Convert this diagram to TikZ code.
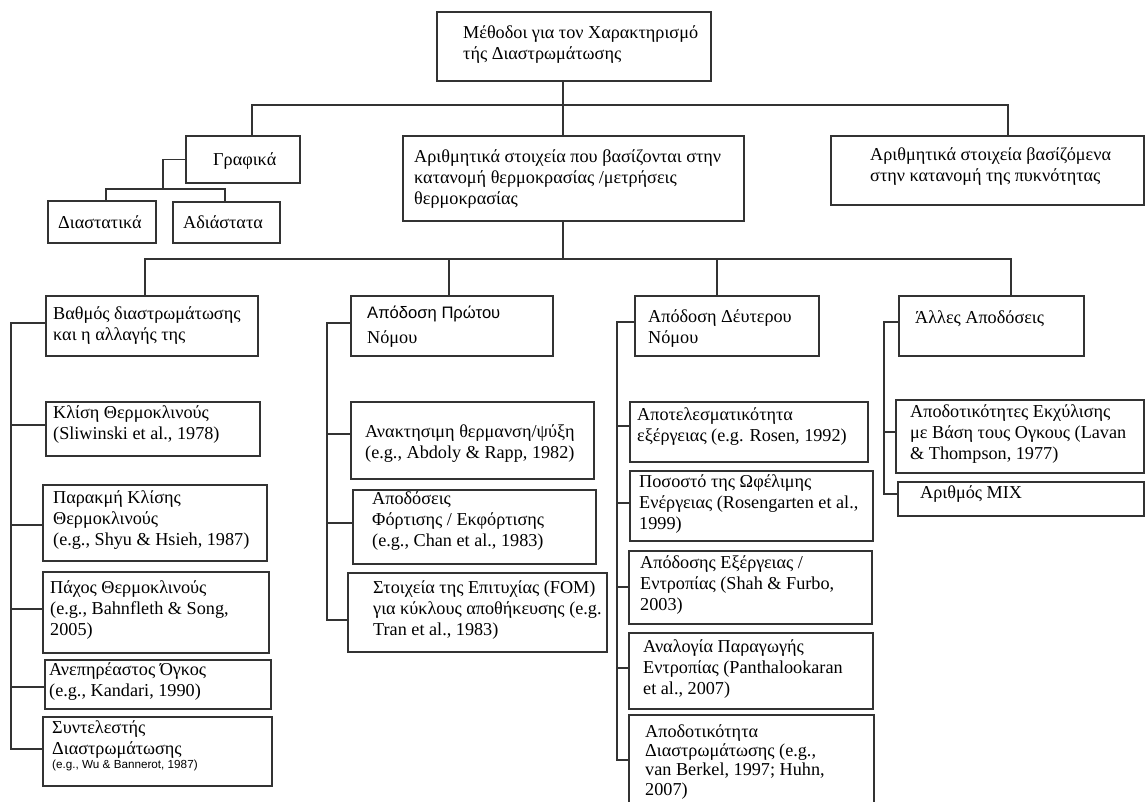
\documentclass[tikz,border=0pt]{standalone}
\usepackage{fontspec}
\setmainfont{Liberation Serif}
\newfontfamily\arialf{Liberation Sans}
\usetikzlibrary{fit}
\begin{document}
\begin{tikzpicture}[x=1pt,y=-1pt,
  box/.style={draw=black!80, line width=1.3pt, inner sep=0pt},
  txt/.style={inner sep=0pt, align=left, anchor=base west, text=black,
    font=\fontsize{18.2}{21}\selectfont},
  ln/.style={draw=black!80, line width=1.3pt}]
\useasboundingbox (0,0) rectangle (1145,801);
% boxes
\node[box, fit={(437,12) (711,81)}] (top) {};
\node[box, fit={(186,136) (300,183)}] (graf) {};
\node[box, fit={(48,201) (156,243)}] (diast) {};
\node[box, fit={(173,202) (280,243)}] (adiast) {};
\node[box, fit={(403,136) (744,221)}] (mid) {};
\node[box, fit={(831,136) (1144,205)}] (dens) {};
\node[box, fit={(46,296) (258,356)}] (vath) {};
\node[box, fit={(46,402) (260,456)}] (klisi) {};
\node[box, fit={(43,485) (267,561)}] (parakmi) {};
\node[box, fit={(43,572) (269,653)}] (pachos) {};
\node[box, fit={(45,660) (271,709)}] (anep) {};
\node[box, fit={(43,717) (272,786)}] (synt) {};
\node[box, fit={(351,296) (553,356)}] (prot) {};
\node[box, fit={(351,402) (594,479)}] (anakt) {};
\node[box, fit={(353,490) (596,564)}] (apod) {};
\node[box, fit={(348,573) (607,652)}] (fom) {};
\node[box, fit={(635,296) (819,356)}] (deut) {};
\node[box, fit={(630,402) (868,462)}] (apot) {};
\node[box, fit={(630,471) (873,541)}] (poso) {};
\node[box, fit={(629,551) (872,624)}] (exerg) {};
\node[box, fit={(629,633) (873,709)}] (anal) {};
\node[box, fit={(629,715) (874,812)}] (strat) {};
\node[box, fit={(899,296) (1084,356)}] (alles) {};
\node[box, fit={(896,400) (1144,473)}] (ekx) {};
\node[box, fit={(898,482) (1144,516)}] (mix) {};
% texts (anchored at the baseline of the last line)
\node[txt] (top-t) at (463,59) {Μέθοδοι για τον Χαρακτηρισμό\\τής Διαστρωμάτωσης};
\node[txt] (graf-t) at (213,165) {Γραφικά};
\node[txt] (diast-t) at (58,228) {Διαστατικά};
\node[txt] (adiast-t) at (183,228) {Αδιάστατα};
\node[txt] (mid-t) at (414,204) {Αριθμητικά στοιχεία που βασίζονται στην\\κατανομή θερμοκρασίας /μετρήσεις\\θερμοκρασίας};
\node[txt] (dens-t) at (870,181) {Αριθμητικά στοιχεία βασίζόμενα\\στην κατανομή της πυκνότητας};
\node[txt] (vath-t) at (53,340) {Βαθμός διαστρωμάτωσης\\και η αλλαγής της};
\node[txt] (klisi-t) at (53,439) {Κλίση Θερμοκλινούς\\(Sliwinski et al., 1978)};
\node[txt] (parakmi-t) at (53,545) {Παρακμή Κλίσης\\Θερμοκλινούς\\(e.g., Shyu \& Hsieh, 1987)};
\node[txt] (pachos-t) at (50,635) {Πάχος Θερμοκλινούς\\(e.g., Bahnfleth \& Song,\\2005)};
\node[txt] (anep-t) at (49,696) {Ανεπηρέαστος Όγκος\\(e.g., Kandari, 1990)};
\node[txt] (synt-t) at (52,754) {Συντελεστής\\Διαστρωμάτωσης};
\node[txt, font=\arialf\fontsize{11.7}{13}\selectfont] (synt-c) at (52,768) {(e.g., Wu \& Bannerot, 1987)};
\node[txt] (prot-t) at (367,343) {{\arialf\fontsize{16.6}{21}\selectfont Απόδοση Πρώτου}\\[4pt]Νόμου};
\node[txt] (anakt-t) at (365,458) {Ανακτησιμη θερμανση/ψύξη\\(e.g., Abdoly \& Rapp, 1982)};
\node[txt] (apod-t) at (372,546) {Αποδόσεις\\Φόρτισης / Εκφόρτισης\\(e.g., Chan et al., 1983)};
\node[txt] (fom-t) at (373,635) {Στοιχεία της Επιτυχίας (FOM)\\για κύκλους αποθήκευσης (e.g.\\Tran et al., 1983)};
\node[txt] (deut-t) at (648,343) {Απόδοση Δέυτερου\\Νόμου};
\node[txt] (apot-t) at (637,441) {Αποτελεσματικότητα\\εξέργειας (e.g. Rosen, 1992)};
\node[txt] (poso-t) at (639,529) {Ποσοστό της Ωφέλιμης\\Ενέργειας (Rosengarten et al.,\\1999)};
\node[txt] (exerg-t) at (640,610) {Απόδοσης Εξέργειας /\\Εντροπίας (Shah \& Furbo,\\2003)};
\node[txt] (anal-t) at (643,694) {Αναλογία Παραγωγής\\Εντροπίας (Panthalookaran\\et al., 2007)};
\node[txt, font=\fontsize{18.2}{19.3}\selectfont] (strat-t) at (645,795) {Αποδοτικότητα\\Διαστρωμάτωσης (e.g.,\\van Berkel, 1997; Huhn,\\2007)};
\node[txt] (alles-t) at (915,323) {Άλλες Αποδόσεις};
\node[txt] (ekx-t) at (910,459) {Αποδοτικότητες Εκχύλισης\\με Βάση τους Ογκους (Lavan\\\& Thompson, 1977)};
\node[txt] (mix-t) at (920,498) {Αριθμός MIX};
% junction coordinates
\coordinate (j1) at (563,105);
\coordinate (gx) at (252,105);
\coordinate (dx) at (1008,105);
\coordinate (j2) at (163,189);
\coordinate (d2) at (106,189);
\coordinate (a2) at (225,189);
\coordinate (j3) at (563,259);
\coordinate (v3) at (145,259);
\coordinate (p3) at (449,259);
\coordinate (e3) at (717,259);
\coordinate (o3) at (1011,259);
% top level
\draw[ln] (top.south -| j1) -- (mid.north -| j1);
\draw[ln] (graf.north -| gx) -- (gx) -- (dx) -- (dens.north -| dx);
% graphical
\draw[ln] (graf.west) -| (j2);
\draw[ln] (diast.north -| d2) -- (d2) -- (a2) -- (adiast.north -| a2);
% second level
\draw[ln] (mid.south -| j3) -- (j3);
\draw[ln] (vath.north -| v3) -- (v3) -- (o3) -- (alles.north -| o3);
\draw[ln] (p3) -- (prot.north -| p3);
\draw[ln] (e3) -- (deut.north -| e3);
% spine 1
\coordinate (s1a) at (11,323);
\coordinate (s1b) at (11,425);
\coordinate (s1c) at (11,525);
\coordinate (s1d) at (11,609);
\coordinate (s1e) at (11,687);
\coordinate (s1f) at (11,749);
\draw[ln] (s1a -| vath.west) -- (s1a) -- (s1f) -- (s1f -| synt.west);
\draw[ln] (s1b) -- (s1b -| klisi.west);
\draw[ln] (s1c) -- (s1c -| parakmi.west);
\draw[ln] (s1d) -- (s1d -| pachos.west);
\draw[ln] (s1e) -- (s1e -| anep.west);
% spine 2
\coordinate (s2a) at (327,323);
\coordinate (s2b) at (327,434);
\coordinate (s2c) at (327,523);
\coordinate (s2d) at (327,620);
\draw[ln] (s2a -| prot.west) -- (s2a) -- (s2d) -- (s2d -| fom.west);
\draw[ln] (s2b) -- (s2b -| anakt.west);
\draw[ln] (s2c) -- (s2c -| apod.west);
% spine 3
\coordinate (s3a) at (617,322);
\coordinate (s3b) at (617,426);
\coordinate (s3c) at (617,503);
\coordinate (s3d) at (617,587);
\coordinate (s3e) at (617,668);
\coordinate (s3f) at (617,760);
\draw[ln] (s3a -| deut.west) -- (s3a) -- (s3f) -- (s3f -| strat.west);
\draw[ln] (s3b) -- (s3b -| apot.west);
\draw[ln] (s3c) -- (s3c -| poso.west);
\draw[ln] (s3d) -- (s3d -| exerg.west);
\draw[ln] (s3e) -- (s3e -| anal.west);
% spine 4
\coordinate (s4a) at (884,322);
\coordinate (s4b) at (884,432);
\coordinate (s4c) at (884,494);
\draw[ln] (s4a -| alles.west) -- (s4a) -- (s4c) -- (s4c -| mix.west);
\draw[ln] (s4b) -- (s4b -| ekx.west);
\end{tikzpicture}
\end{document}
